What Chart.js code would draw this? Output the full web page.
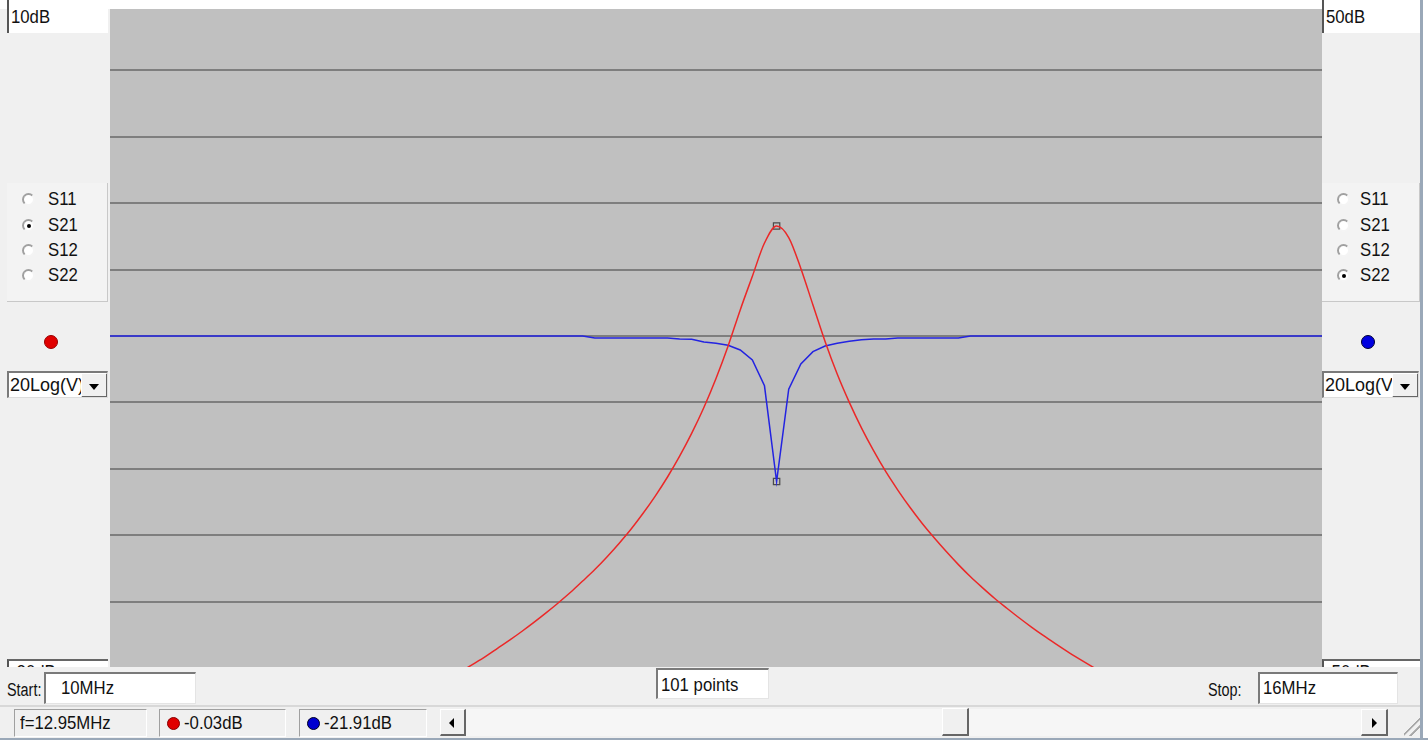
<!DOCTYPE html>
<html>
<head>
<meta charset="utf-8">
<script src="https://cdn.jsdelivr.net/npm/chart.js@4.4.1/dist/chart.umd.min.js"></script>
<style>
  html, body { margin: 0; padding: 0; }
  body { width: 1428px; height: 740px; position: relative; overflow: hidden; background: #f0f0f0;
         font-family: "Liberation Sans", Arial, sans-serif; color: #111; }
  .abs { position: absolute; box-sizing: border-box; }
  .t { position: absolute; white-space: nowrap; font-size: 18px; line-height: 20px;
       transform: scaleX(0.93); transform-origin: 0 50%; }
  .t.n { transform: scaleX(0.8); }
  .t.w { transform: none; }
  .box { background: #fff; border-top: 2px solid #7a7a7a; border-left: 2px solid #7a7a7a;
         border-right: 1px solid #e4e4e4; border-bottom: 1px solid #e4e4e4; overflow: hidden; }
  .scale { background: #fff; border-left: 2px solid #555; overflow: hidden; }
  .group { background: #f3f3f3; border-right: 1px solid #c8c8c8; border-bottom: 1px solid #c8c8c8; }
  .radio { position: absolute; width: 13px; height: 13px; border-radius: 50%; box-sizing: border-box;
           background: #fff; border: 2px solid #a0a0a0; border-right-color: #f4f4f4; border-bottom-color: #f4f4f4; }
  .radio.on::after { content: ""; position: absolute; left: 2.5px; top: 2.5px; width: 4px; height: 4px;
           border-radius: 50%; background: #000; }
  .dot { position: absolute; border-radius: 50%; }
  .sel { background: #fff; border-top: 2px solid #7a7a7a; border-left: 2px solid #7a7a7a;
         border-right: 1px solid #ddd; border-bottom: 1px solid #ddd; overflow: hidden; }
  .btn { position: absolute; background: #f0f0f0; border-right: 2px solid #666; border-bottom: 2px solid #666;
         border-top: 1px solid #fff; border-left: 1px solid #fff; box-sizing: border-box; }
  .stat { border: 1px solid #a0a0a0; border-right-color: #fff; border-bottom-color: #fff; }
  #plot { position: absolute; left: 110px; top: 3.5px; width: 1212px; height: 664px; }
</style>
</head>
<body>

<div id="plot"><canvas id="vna"></canvas></div>

<!-- strip above the trace window -->
<div class="abs" style="left:0; top:0; width:1428px; height:9px; background:#fff;"></div>

<!-- left channel panel -->
<div class="abs scale" style="left:7px; top:0; width:101px; height:33px;"><span class="t" style="left:2px; top:7px;">10dB</span></div>
<div class="abs group" style="left:7px; top:183px; width:101px; height:119px;">
  <div class="radio" style="left:15px; top:10px;"></div><span class="t" style="left:41px; top:6px;">S11</span>
  <div class="radio on" style="left:15px; top:36px;"></div><span class="t" style="left:41px; top:32px;">S21</span>
  <div class="radio" style="left:15px; top:61px;"></div><span class="t" style="left:41px; top:57px;">S12</span>
  <div class="radio" style="left:15px; top:86px;"></div><span class="t" style="left:41px; top:82px;">S22</span>
</div>
<div class="dot" style="left:44px; top:335px; width:14px; height:14px; background:#e00000; border:1px solid #900; box-sizing:border-box;"></div>
<div class="abs sel" style="left:7px; top:371px; width:101px; height:27px;">
  <span class="t w" style="left:1px; top:2px;">20Log(V)</span>
  <div class="btn" style="left:72px; top:0; width:27px; height:25px;"><span style="position:absolute; left:7px; top:10px; border-left:5px solid transparent; border-right:5px solid transparent; border-top:6px solid #000;"></span></div>
</div>
<div class="abs scale" style="left:7px; top:659px; width:101px; height:24px; border-top:2px solid #666;"><span class="t" style="left:2px; top:1px;">-20dB</span></div>

<!-- right channel panel -->
<div class="abs scale" style="left:1322px; top:0; width:98px; height:33px;"><span class="t" style="left:2px; top:7px;">50dB</span></div>
<div class="abs group" style="left:1322px; top:183px; width:98px; height:119px;">
  <div class="radio" style="left:15px; top:10px;"></div><span class="t" style="left:38px; top:6px;">S11</span>
  <div class="radio" style="left:15px; top:36px;"></div><span class="t" style="left:38px; top:32px;">S21</span>
  <div class="radio" style="left:15px; top:61px;"></div><span class="t" style="left:38px; top:57px;">S12</span>
  <div class="radio on" style="left:15px; top:86px;"></div><span class="t" style="left:38px; top:82px;">S22</span>
</div>
<div class="dot" style="left:1361px; top:335px; width:14px; height:14px; background:#0000e0; border:1px solid #003; box-sizing:border-box;"></div>
<div class="abs sel" style="left:1322px; top:371px; width:97px; height:27px;">
  <span class="t w" style="left:1px; top:2px;">20Log(V)</span>
  <div class="btn" style="left:68px; top:0; width:27px; height:25px;"><span style="position:absolute; left:7px; top:10px; border-left:5px solid transparent; border-right:5px solid transparent; border-top:6px solid #000;"></span></div>
</div>
<div class="abs scale" style="left:1322px; top:659px; width:98px; height:24px; border-top:2px solid #666;"><span class="t" style="left:2px; top:1px;">-50dB</span></div>

<!-- sweep settings row -->
<div class="abs" style="left:0; top:667px; width:1420px; height:73px; background:#f0f0f0;"></div>
<span class="t n" style="left:7px; top:680px;">Start:</span>
<div class="abs box" style="left:44px; top:672px; width:152px; height:32px;"><span class="t" style="left:15px; top:4px;">10MHz</span></div>
<div class="abs box" style="left:656px; top:668px; width:113px; height:31px;"><span class="t" style="left:3px; top:5px;">101 points</span></div>
<span class="t n" style="left:1208px; top:680px;">Stop:</span>
<div class="abs box" style="left:1258px; top:672px; width:140px; height:32px;"><span class="t" style="left:3px; top:4px;">16MHz</span></div>

<!-- status row -->
<div class="abs" style="left:0; top:705px; width:1420px; height:2px; background:#d8d8d8;"></div>
<div class="abs stat" style="left:14px; top:709px; width:133px; height:28px;"><span class="t" style="left:5px; top:3px;">f=12.95MHz</span></div>
<div class="abs stat" style="left:159px; top:709px; width:127px; height:28px;">
  <div class="dot" style="left:7px; top:7px; width:13px; height:13px; background:#e00000; border:1px solid #800; box-sizing:border-box;"></div>
  <span class="t" style="left:24px; top:3px;">-0.03dB</span></div>
<div class="abs stat" style="left:299px; top:709px; width:128px; height:28px;">
  <div class="dot" style="left:7px; top:7px; width:13px; height:13px; background:#0000d0; border:1px solid #002; box-sizing:border-box;"></div>
  <span class="t" style="left:24px; top:3px;">-21.91dB</span></div>
<div class="abs" style="left:440px; top:709px; width:948px; height:27px; background:#f6f6f6;"></div>
<div class="btn" style="left:440px; top:709px; width:26px; height:27px;"><span style="position:absolute; left:8px; top:8px; border-top:5px solid transparent; border-bottom:5px solid transparent; border-right:5px solid #000;"></span></div>
<div class="btn" style="left:942px; top:708px; width:27px; height:28px;"></div>
<div class="btn" style="left:1361px; top:709px; width:27px; height:27px;"><span style="position:absolute; left:10px; top:8px; border-top:5px solid transparent; border-bottom:5px solid transparent; border-left:5px solid #000;"></span></div>
<div class="abs" style="left:1404px; top:716px; width:18px; height:20px; background:linear-gradient(135deg, transparent 45%, #a8a8a8 46%, #a8a8a8 52%, transparent 53%, transparent 65%, #a8a8a8 66%, #a8a8a8 72%, transparent 73%);"></div>
<div class="abs" style="left:1420px; top:0; width:3px; height:740px; background:#9aa8b8;"></div>
<div class="abs" style="left:1423px; top:0; width:5px; height:740px; background:#fff;"></div>
<div class="abs" style="left:0; top:738px; width:1428px; height:2px; background:#9aa8b8;"></div>

<script>
// sweep: 10 MHz .. 16 MHz, 101 points
const freqs = [
  10.00, 10.06, 10.12, 10.18, 10.24, 10.30, 10.36, 10.42, 10.48, 10.54,
  10.60, 10.66, 10.72, 10.78, 10.84, 10.90, 10.96, 11.02, 11.08, 11.14,
  11.20, 11.26, 11.32, 11.38, 11.44, 11.50, 11.56, 11.62, 11.68, 11.74,
  11.80, 11.86, 11.92, 11.98, 12.04, 12.10, 12.16, 12.22, 12.28, 12.34,
  12.40, 12.46, 12.52, 12.58, 12.64, 12.70, 12.76, 12.82, 12.88, 12.94,
  13.00, 13.06, 13.12, 13.18, 13.24, 13.30, 13.36, 13.42, 13.48, 13.54,
  13.60, 13.66, 13.72, 13.78, 13.84, 13.90, 13.96, 14.02, 14.08, 14.14,
  14.20, 14.26, 14.32, 14.38, 14.44, 14.50, 14.56, 14.62, 14.68, 14.74,
  14.80, 14.86, 14.92, 14.98, 15.04, 15.10, 15.16, 15.22, 15.28, 15.34,
  15.40, 15.46, 15.52, 15.58, 15.64, 15.70, 15.76, 15.82, 15.88, 15.94,
  16.00
];

// S21 in dB (left scale, 10dB .. -20dB)
const s21 = [
  -26.70, -26.54, -26.38, -26.21, -26.05, -25.87, -25.70, -25.52, -25.34, -25.15,
  -24.96, -24.77, -24.57, -24.36, -24.16, -23.94, -23.72, -23.50, -23.27, -23.03,
  -22.79, -22.54, -22.28, -22.01, -21.74, -21.46, -21.16, -20.80, -20.47, -20.14,
  -19.81, -19.47, -19.10, -18.73, -18.34, -17.93, -17.50, -17.05, -16.58, -16.07,
  -15.55, -14.98, -14.37, -13.72, -13.00, -12.22, -11.37, -10.43, -9.39, -8.23,
  -6.92, -5.45, -3.82, -2.30, -0.80, -0.03, -0.55, -1.95, -3.60, -5.25,
  -6.72, -8.00, -9.15, -10.18, -11.12, -11.96, -12.74, -13.46, -14.12, -14.74,
  -15.33, -15.88, -16.38, -16.86, -17.30, -17.73, -18.14, -18.53, -18.90, -19.26,
  -19.60, -19.93, -20.25, -20.56, -20.86, -21.15, -21.44, -21.71, -21.98, -22.24,
  -22.49, -22.74, -22.97, -23.20, -23.43, -23.65, -23.86, -24.07, -24.27, -24.47,
  -24.66
];

// S22 in dB (right scale, 50dB .. -50dB)
const s22 = [
  0, 0, 0, 0, 0, 0, 0, 0, 0, 0,
  0, 0, 0, 0, 0, 0, 0, 0, 0, 0,
  0, 0, 0, 0, 0, 0, 0, 0, 0, 0,
  0, 0, 0, 0, 0, 0, 0, 0, 0, 0,
  -0.3, -0.3, -0.3, -0.3, -0.3, -0.3, -0.3, -0.45, -0.5, -0.9,
  -1.1, -1.4, -2.1, -3.6, -7.5, -21.91, -8.0, -4.2, -2.35, -1.5,
  -1.1, -0.8, -0.55, -0.45, -0.45, -0.3, -0.3, -0.3, -0.3, -0.3,
  -0.3, 0, 0, 0, 0, 0, 0, 0, 0, 0,
  0, 0, 0, 0, 0, 0, 0, 0, 0, 0,
  0, 0, 0, 0, 0, 0, 0, 0, 0, 0,
  0
];

const leftScale = { min: -20, max: 10, step: 3 };
const rightScale = { min: -50, max: 50 };
const markerIndex = 55;

const toPoints = (ys) => ys.map((y, i) => ({ x: freqs[i], y: y }));

// grey trace window
const plotBg = {
  id: 'plotBg',
  beforeDraw(chart) {
    const a = chart.chartArea;
    const ctx = chart.ctx;
    ctx.save();
    ctx.fillStyle = '#c0c0c0';
    ctx.fillRect(a.left, a.top, a.right - a.left, a.bottom - a.top);
    ctx.restore();
  }
};

new Chart(document.getElementById('vna'), {
  type: 'line',
  data: {
    datasets: [
      {
        data: toPoints(s21), yAxisID: 'y',
        borderColor: 'rgb(235,40,40)', borderWidth: 1.5, pointRadius: 0, cubicInterpolationMode: 'monotone'
      },
      {
        data: toPoints(s22), yAxisID: 'y2',
        borderColor: 'rgb(35,35,225)', borderWidth: 1.5, pointRadius: 0, tension: 0
      },
      {
        data: [{ x: freqs[markerIndex], y: s21[markerIndex] }], yAxisID: 'y', showLine: false,
        pointStyle: 'rect', pointRadius: 4.5, borderWidth: 1.2, borderColor: '#4a4a4a', backgroundColor: 'rgba(0,0,0,0)'
      },
      {
        data: [{ x: freqs[markerIndex], y: s22[markerIndex] }], yAxisID: 'y2', showLine: false,
        pointStyle: 'rect', pointRadius: 4.5, borderWidth: 1.2, borderColor: '#4a4a4a', backgroundColor: 'rgba(0,0,0,0)'
      }
    ]
  },
  options: {
    responsive: true,
    maintainAspectRatio: false,
    animation: false,
    layout: { padding: 0, autoPadding: false },
    plugins: { legend: { display: false }, tooltip: { enabled: false } },
    scales: {
      x: { type: 'linear', min: freqs[0], max: freqs[freqs.length - 1], display: false },
      y: {
        min: leftScale.min, max: leftScale.max,
        ticks: { display: false, stepSize: leftScale.step },
        border: { display: false },
        grid: {
          drawTicks: false, lineWidth: 2,
          color: (c) => (c.tick && (c.tick.value === leftScale.min || c.tick.value === leftScale.max)) ? 'rgba(0,0,0,0)' : '#7e7e7e'
        }
      },
      y2: { min: rightScale.min, max: rightScale.max, display: false }
    }
  },
  plugins: [plotBg]
});
</script>
</body>
</html>
